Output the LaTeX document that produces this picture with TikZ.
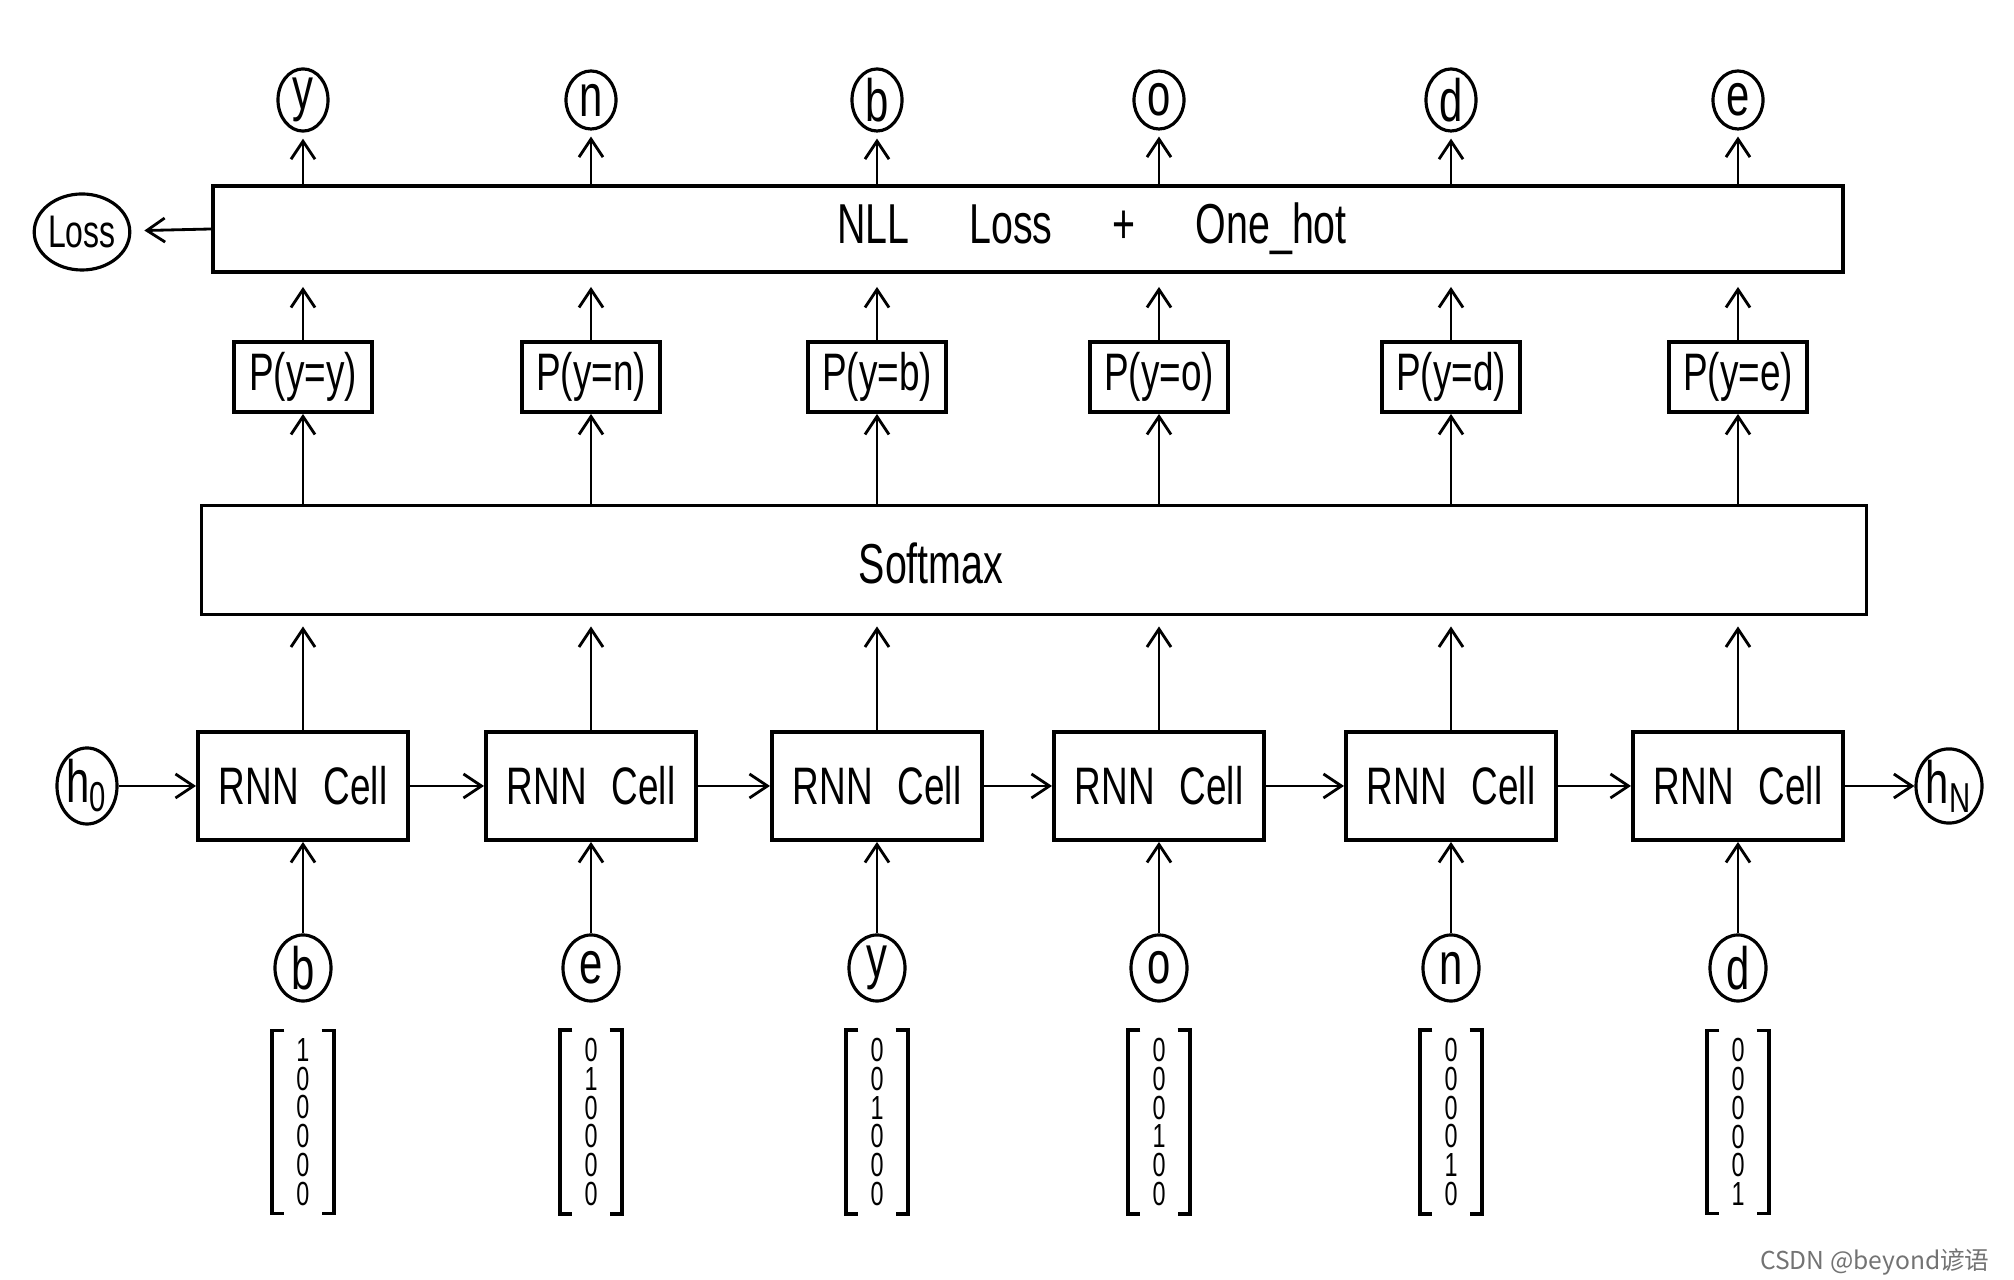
\documentclass[tikz,border=0pt]{standalone}
\usepackage{fontspec}
\setmainfont{Liberation Sans}[FakeStretch=0.7]
\newfontfamily\cjkfont{Noto Sans CJK SC}
\usetikzlibrary{arrows.meta,shapes.geometric}

%% one-hot column with a 1 in row #1
\newcommand{\onehot}[1]{%
  \ifnum#1=1 1\else 0\fi\\\ifnum#1=2 1\else 0\fi\\\ifnum#1=3 1\else 0\fi\\%
  \ifnum#1=4 1\else 0\fi\\\ifnum#1=5 1\else 0\fi\\\ifnum#1=6 1\else 0\fi}

\begin{document}
\begin{tikzpicture}[x=0.01cm, y=-0.01cm, font=\fontsize{15}{18}\selectfont,
    arr/.style={line width=0.8pt, -{Straight Barb[length=1.8mm,width=2.4mm]}},
    bigbox/.style={draw, line width=1.1pt, inner sep=0pt},
    cellbox/.style={draw, line width=1.1pt, minimum width=2.1cm, minimum height=1.08cm},
    probbox/.style={draw, line width=1.1pt, minimum width=1.38cm, minimum height=0.7cm, inner sep=1pt},
    ring/.style={draw, ellipse, line width=0.9pt, inner sep=0pt, font=\fontsize{17}{20}\selectfont},
    onevec/.style={align=center, minimum width=0.6cm, inner xsep=0pt, inner ysep=2pt,
                   font=\fontsize{9.5}{8.2}\selectfont},
    brk/.style={line width=1.1pt}]

  \useasboundingbox (0,0) rectangle (2014,1280);

  %% wide layers
  \node[bigbox, minimum width=16.29cm, minimum height=0.86cm] (nll) at (1028,229) {};
  \node[font=\fontsize{16}{19}\selectfont] (nlltxt) at (1092,229)
       {NLL\hspace{0.6cm}Loss\hspace{0.6cm}+\hspace{0.6cm}One\_hot};
  \node[bigbox, minimum width=16.64cm, minimum height=1.09cm] (smax) at (1034,560) {};
  \node[font=\fontsize{16}{19}\selectfont] (smaxtxt) at (931,563) {Softmax};

  %% loss and hidden states
  \node[ring, minimum width=0.8cm, minimum height=0.76cm,
        font=\fontsize{13}{15}\selectfont] (loss) at (82,232) {Loss};
  \node[ring, minimum width=0.6cm, minimum height=0.76cm] (h0) at (87,786) {h\textsubscript{0}};
  \node[ring, minimum width=0.66cm, minimum height=0.66cm] (hN) at (1949,786) {h\textsubscript{N}};
  \draw[arr, shorten >=0.13cm] (nll.west) -- (loss);

  %% one column per time step
  \foreach \i/\x/\outc/\inc in {1/303/y/b, 2/591/n/e, 3/877/b/y,
                                4/1159/o/o, 5/1451/d/n, 6/1738/e/d} {
    \node[ring, minimum width=0.5cm, minimum height=0.58cm] (out\i) at (\x,100) {\outc};
    \node[probbox] (p\i) at (\x,377) {P(y=\outc)};
    \node[cellbox] (rnn\i) at (\x,786) {RNN\hspace{0.25cm}Cell};
    \node[ring, minimum width=0.56cm, minimum height=0.66cm] (in\i) at (\x,968) {\inc};
    \node[onevec] (vec\i) at (\x,1122) {\onehot{\i}};

    \draw[brk] ([xshift=1.2mm]vec\i.north west) -| (vec\i.south west)
               -- ([xshift=1.2mm]vec\i.south west);
    \draw[brk] ([xshift=-1.2mm]vec\i.north east) -| (vec\i.south east)
               -- ([xshift=-1.2mm]vec\i.south east);

    \draw[arr, shorten >=0.06cm] (nll.north -| out\i) -- (out\i);
    \draw[arr, shorten >=0.13cm] (p\i) -- (p\i |- nll.south);
    \draw[arr] (smax.north -| p\i) -- (p\i);
    \draw[arr, shorten >=0.1cm] (rnn\i) -- (rnn\i |- smax.south);
    \draw[arr] (in\i) -- (rnn\i);
  }

  %% recurrence
  \draw[arr] (h0) -- (rnn1);
  \foreach \a/\b in {1/2, 2/3, 3/4, 4/5, 5/6}
    \draw[arr] (rnn\a) -- (rnn\b);
  \draw[arr] (rnn6) -- (hN);

  \node[anchor=east, text=black!55, font=\cjkfont\fontsize{7}{8}\selectfont]
       (mark) at (2002,1262) {CSDN @beyond谚语};

\end{tikzpicture}
\end{document}
